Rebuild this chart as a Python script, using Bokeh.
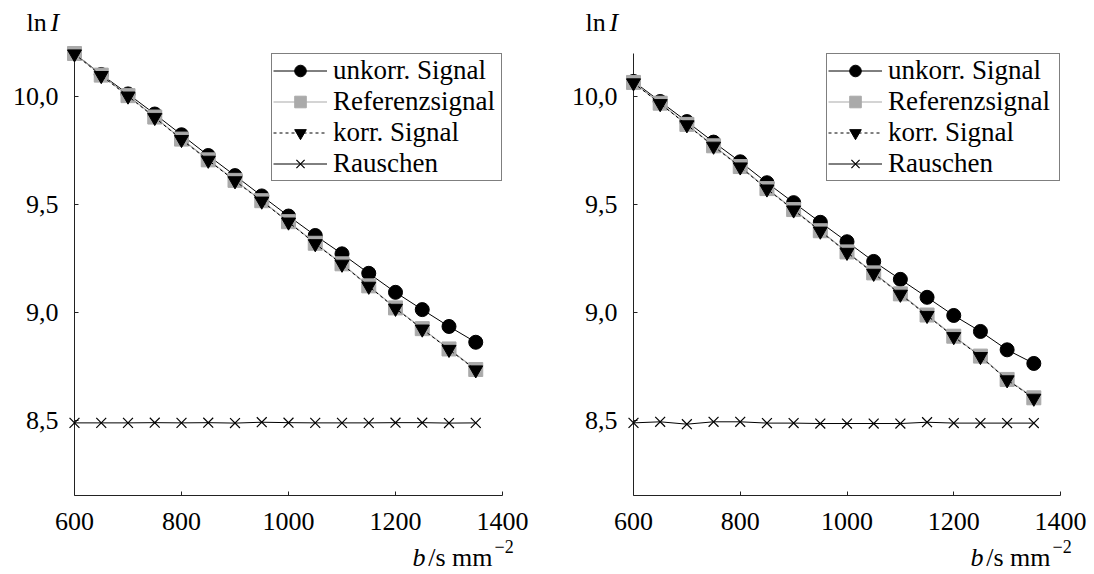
from bokeh.plotting import figure
from bokeh.layouts import row
from bokeh.models import Range1d, FixedTicker, CustomJSTickFormatter
from bokeh.core.properties import value
from bokeh.embed import file_html
from bokeh.resources import INLINE

# ---------------- data ----------------
b_values = [600, 650, 700, 750, 800, 850, 900, 950, 1000, 1050, 1100, 1150, 1200, 1250, 1300, 1350]

left_unkorr = [10.20, 10.103, 10.013, 9.920, 9.824, 9.728, 9.635, 9.541, 9.448, 9.358, 9.273, 9.183, 9.095, 9.015, 8.937, 8.864]
left_referenz = [10.20, 10.10, 10.005, 9.906, 9.804, 9.708, 9.613, 9.519, 9.422, 9.322, 9.227, 9.125, 9.023, 8.927, 8.833, 8.738]
left_korr = [10.198, 10.098, 10.003, 9.904, 9.802, 9.706, 9.611, 9.517, 9.420, 9.320, 9.225, 9.123, 9.021, 8.925, 8.831, 8.736]
left_rauschen = [8.491, 8.491, 8.491, 8.492, 8.491, 8.492, 8.490, 8.494, 8.492, 8.491, 8.491, 8.491, 8.492, 8.492, 8.490, 8.491]

right_unkorr = [10.071, 9.978, 9.885, 9.790, 9.699, 9.602, 9.510, 9.419, 9.329, 9.238, 9.155, 9.072, 8.988, 8.914, 8.829, 8.766]
right_referenz = [10.066, 9.970, 9.872, 9.773, 9.677, 9.575, 9.478, 9.380, 9.282, 9.185, 9.088, 8.990, 8.892, 8.800, 8.692, 8.607]
right_korr = [10.064, 9.968, 9.870, 9.771, 9.675, 9.573, 9.476, 9.378, 9.280, 9.183, 9.086, 8.988, 8.890, 8.798, 8.690, 8.605]
right_rauschen = [8.491, 8.496, 8.485, 8.496, 8.496, 8.490, 8.490, 8.488, 8.488, 8.488, 8.488, 8.494, 8.490, 8.490, 8.490, 8.490]

series_names = ["unkorr. Signal", "Referenzsignal", "korr. Signal", "Rauschen"]
x_ticks = [600, 800, 1000, 1200, 1400]
y_ticks = [8.5, 9.0, 9.5, 10.0]
y_tick_labels = ["8,5", "9,0", "9,5", "10,0"]
y_min, y_max = 8.155, 10.2
y_label_parts = ["ln", "I"]
x_label_parts = ["b", "/s mm", "\u22122"]

FONT = "Liberation Serif"
FS = "26px"


def add_text(p, x, y, txt, dx, dy, size=FS, style="normal", align="left"):
    r = p.text(x=[x], y=[y], text=[txt], x_offset=dx, y_offset=dy,
               text_font=value(FONT), text_font_size=size, text_font_style=style,
               text_align=align, text_baseline="alphabetic", text_color="black")
    r.level = "overlay"
    return r


def make_panel(unkorr, referenz, korr, rauschen, border_left, border_right, width, label_width):
    p = figure(width=width, height=574, output_backend="svg", toolbar_location=None,
               x_range=Range1d(x_ticks[0], x_ticks[-1]), y_range=Range1d(y_min, y_max),
               min_border_left=border_left, min_border_right=border_right,
               min_border_top=53, min_border_bottom=79)
    p.outline_line_color = None
    p.grid.visible = False
    p.background_fill_color = "white"
    p.border_fill_color = "white"

    # unkorr. Signal
    r = p.line(b_values, unkorr, line_color="black", line_width=1, legend_label=series_names[0])
    r.level = "overlay"
    r = p.scatter(b_values, unkorr, marker="circle", size=14, fill_color="black", line_color="black",
                  legend_label=series_names[0])
    r.level = "overlay"
    # Referenzsignal
    r = p.line(b_values, referenz, line_color="#aaaaaa", line_width=1.2, legend_label=series_names[1])
    r.level = "overlay"
    r = p.scatter(b_values, referenz, marker="square", size=14, fill_color="#aaaaaa", line_color="#aaaaaa",
                  legend_label=series_names[1])
    r.level = "overlay"
    # korr. Signal
    r = p.line(b_values, korr, line_color="black", line_width=1, line_dash="3 3", legend_label=series_names[2])
    r.level = "overlay"
    r = p.scatter(b_values, korr, marker="inverted_triangle", size=14, fill_color="black", line_color="black",
                  legend_label=series_names[2])
    r.level = "overlay"
    # Rauschen
    r = p.line(b_values, rauschen, line_color="black", line_width=1, legend_label=series_names[3])
    r.level = "overlay"
    r = p.scatter(b_values, rauschen, marker="x", size=14, line_color="black", line_width=1.2,
                  legend_label=series_names[3])
    r.level = "overlay"

    # axes
    p.xaxis.ticker = FixedTicker(ticks=x_ticks)
    p.yaxis.ticker = FixedTicker(ticks=y_ticks)
    p.yaxis.formatter = CustomJSTickFormatter(
        args=dict(tvals=y_ticks, tlabels=y_tick_labels),
        code="const i = tvals.findIndex(t => Math.abs(t - tick) < 1e-6); return i >= 0 ? tlabels[i] : String(tick);")
    for ax in (p.xaxis[0], p.yaxis[0]):
        ax.axis_line_color = "#222222"
        ax.axis_line_width = 1
        ax.major_tick_in = 4
        ax.major_tick_out = 0
        ax.major_tick_line_color = "#222222"
        ax.minor_tick_line_color = None
        ax.major_label_text_font = FONT
        ax.major_label_text_font_size = FS
        ax.major_label_text_color = "black"
    p.xaxis.major_label_standoff = 17
    p.yaxis.major_label_standoff = 16

    # legend
    lg = p.legend[0]
    lg.location = "top_right"
    lg.margin = 0
    lg.padding = 1
    lg.spacing = 0
    lg.label_height = 29
    lg.glyph_height = 29
    lg.glyph_width = 54
    lg.label_standoff = 6
    lg.label_width = label_width
    lg.border_line_color = "black"
    lg.border_line_width = 1
    lg.background_fill_color = "white"
    lg.background_fill_alpha = 1
    lg.label_text_font = FONT
    lg.label_text_font_size = "27px"
    lg.label_text_color = "black"

    # y label "ln I" above the y axis
    add_text(p, x_ticks[0], y_max, y_label_parts[0], -48, -31)
    add_text(p, x_ticks[0], y_max, y_label_parts[1], -24, -31, style="italic")
    # x label "b/s mm^-2" below the right end of the x axis
    add_text(p, x_ticks[-1], y_min, x_label_parts[0], -90, 62, style="italic")
    add_text(p, x_ticks[-1], y_min, x_label_parts[1], -10, 62, align="right")
    add_text(p, x_ticks[-1], y_min, x_label_parts[2], -8, 51, size="18px")
    return p


p1 = make_panel(left_unkorr, left_referenz, left_korr, left_rauschen, 74, 45, 547, 167)
p2 = make_panel(right_unkorr, right_referenz, right_korr, right_rauschen, 86, 34, 547, 170)

layout = row(p1, p2, spacing=0)
open("out.html", "w").write(file_html(layout, INLINE))
